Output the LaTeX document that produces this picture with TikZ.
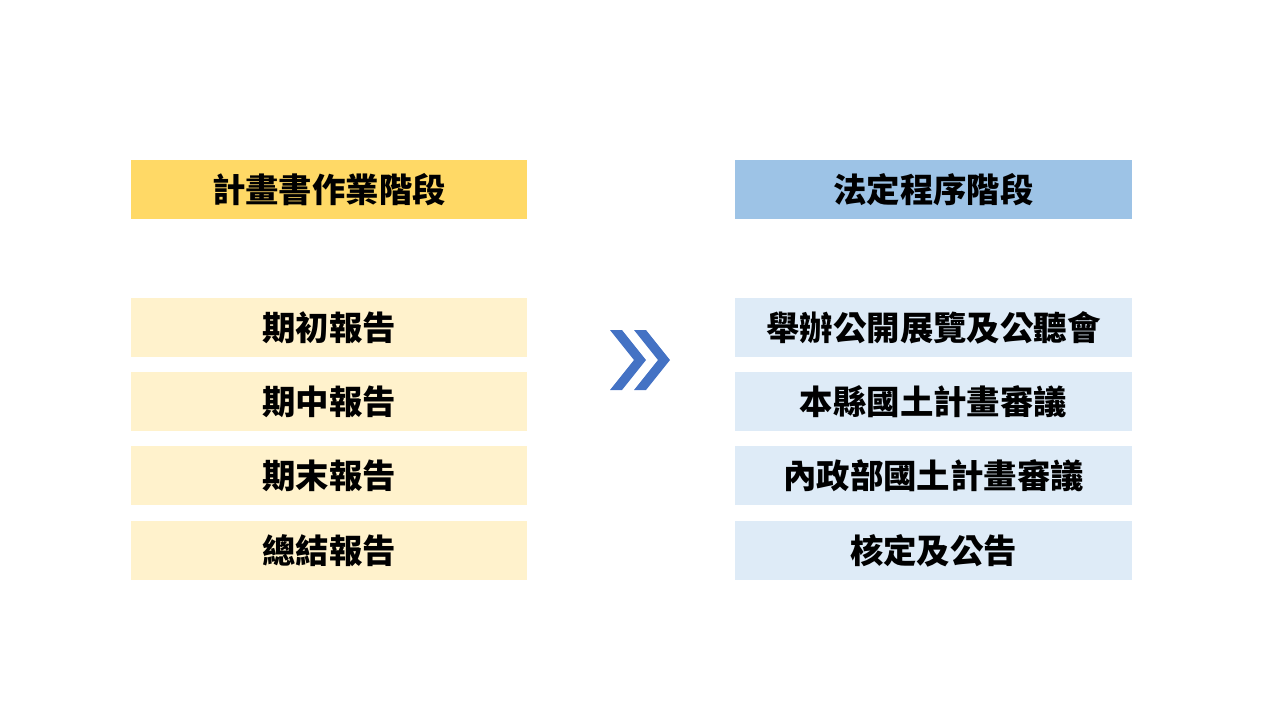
\documentclass[tikz,border=0pt]{standalone}
\usepackage{fontspec}
\setmainfont{Noto Sans CJK TC}
\definecolor{hy}{HTML}{FFD966}
\definecolor{hb}{HTML}{9DC3E6}
\definecolor{ly}{HTML}{FFF2CC}
\definecolor{lb}{HTML}{DEEBF7}
\definecolor{ch}{HTML}{4472C4}
\begin{document}
\begin{tikzpicture}[x=0.01cm,y=-0.01cm,
  box/.style={minimum width=3.96cm,minimum height=0.59cm,inner sep=0pt,font=\fontsize{9.5pt}{10pt}\selectfont\bfseries,text=black}]
\useasboundingbox (0,0) rectangle (1280,720);
\node[box,fill=hy] (lh) at (329,189.5) {計畫書作業階段};
\node[box,fill=hb] (rh) at (933.5,189.5) {法定程序階段};
\node[box,fill=ly] (l1) at (329,327.5) {期初報告};
\node[box,fill=ly] (l2) at (329,401.5) {期中報告};
\node[box,fill=ly] (l3) at (329,475.5) {期末報告};
\node[box,fill=ly] (l4) at (329,550.5) {總結報告};
\node[box,fill=lb] (r1) at (933.5,327.5) {舉辦公開展覽及公聽會};
\node[box,fill=lb] (r2) at (933.5,401.5) {本縣國土計畫審議};
\node[box,fill=lb] (r3) at (933.5,475.5) {內政部國土計畫審議};
\node[box,fill=lb] (r4) at (933.5,550.5) {核定及公告};
\fill[ch] (610,330) -- (622,330) -- (646,360) -- (622,390) -- (610,390) -- (634,360) -- cycle;
\fill[ch] (634,330) -- (646,330) -- (670,360) -- (646,390) -- (634,390) -- (658,360) -- cycle;
\end{tikzpicture}
\end{document}
